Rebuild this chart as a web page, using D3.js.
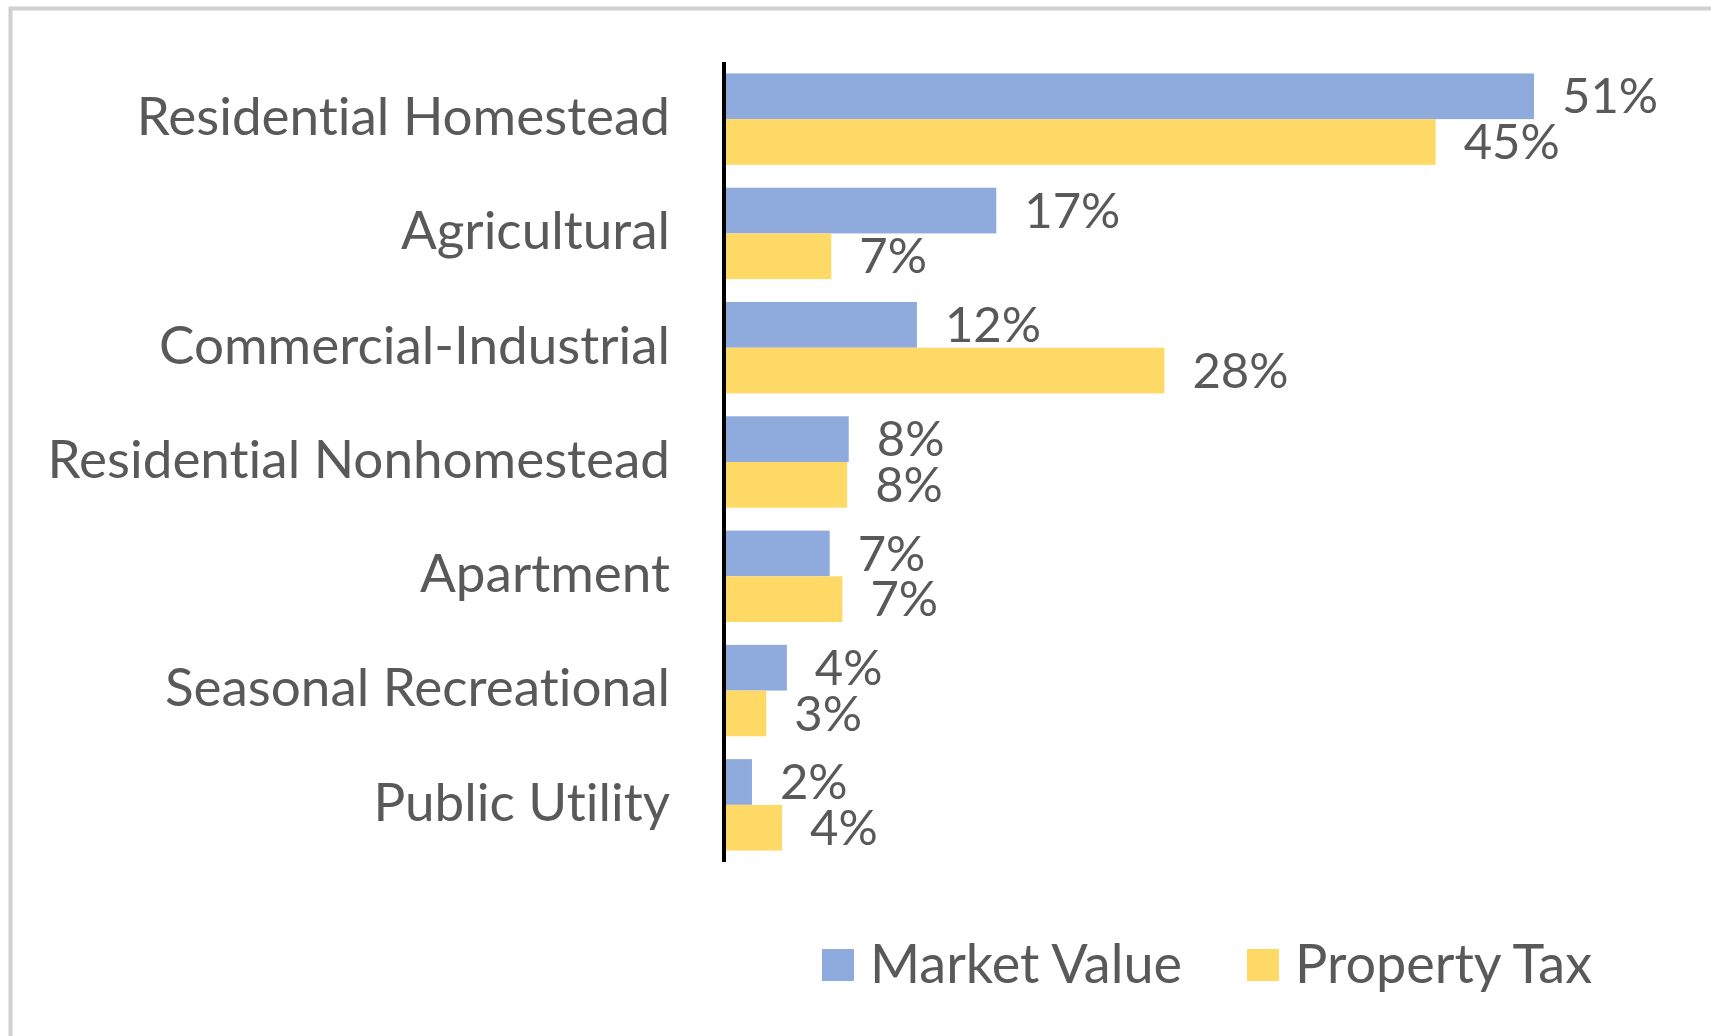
<!DOCTYPE html>
<html>
<head>
<meta charset="utf-8">
<script src="https://cdn.jsdelivr.net/npm/d3@7"></script>
<style>
  body { margin: 0; background: #fff; }
  text { font-family: Lato, "Open Sans", sans-serif; fill: #595959; font-variant-ligatures: none; }
</style>
</head>
<body>
<div id="chart"></div>
<script>
const categories = ['Residential Homestead', 'Agricultural', 'Commercial-Industrial',
  'Residential Nonhomestead', 'Apartment', 'Seasonal Recreational', 'Public Utility']
const seriesNames = ['Market Value', 'Property Tax']
const marketValue = [51.0, 17.1, 12.1, 7.8, 6.6, 3.9, 1.7]
const propertyTax = [44.8, 6.7, 27.7, 7.7, 7.4, 2.6, 3.6]
const colors = ['#8faadc', '#ffd966']

const width = 1711, height = 1036
const labelSize = 53, legendSize = 54, valueSize = 49

const svg = d3.select('#chart').append('svg')
  .attr('width', width)
  .attr('height', height)

// chart frame (only top and left edges fall inside the picture)
svg.append('path')
  .attr('d', `M10.5,${height} L10.5,8.5 L${width},8.5`)
  .attr('fill', 'none')
  .attr('stroke', '#d0d0d0')
  .attr('stroke-width', 4)

const y = d3.scaleBand()
  .domain(categories)
  .range([62, 862])
  .paddingInner(0.2)
  .paddingOuter(0.1)
const ySub = d3.scaleBand()
  .domain(seriesNames)
  .range([0, y.bandwidth()])
const x = d3.scaleLinear()
  .domain([0, 51])
  .range([725, 1534])

const rows = categories.map((c, i) => ({
  cat: c,
  vals: [marketValue[i], propertyTax[i]]
}))

const group = svg.append('g').selectAll('g')
  .data(rows)
  .enter().append('g')
  .attr('transform', d => `translate(0, ${y(d.cat)})`)

group.selectAll('rect')
  .data(d => d.vals.map((v, j) => ({ v, s: seriesNames[j], j })))
  .enter().append('rect')
  .attr('x', x(0))
  .attr('y', d => ySub(d.s))
  .attr('width', d => x(d.v) - x(0))
  .attr('height', ySub.bandwidth())
  .attr('fill', d => colors[d.j])

group.selectAll('text.val')
  .data(d => d.vals.map((v, j) => ({ v, s: seriesNames[j], j })))
  .enter().append('text')
  .attr('class', 'val')
  .attr('x', d => x(d.v) + 28)
  .attr('y', d => ySub(d.s) + ySub.bandwidth() / 2)
  .attr('dy', '0.35em')
  .style('font-size', valueSize + 'px')
  .text(d => Math.round(d.v) + '%')

// category labels
svg.append('g').selectAll('text')
  .data(categories)
  .enter().append('text')
  .attr('x', 670)
  .attr('y', d => y(d) + y.bandwidth() / 2)
  .attr('dy', '0.3em')
  .attr('text-anchor', 'end')
  .style('font-size', labelSize + 'px')
  .text(d => d)

// axis line
svg.append('line')
  .attr('x1', 724).attr('x2', 724)
  .attr('y1', 62).attr('y2', 862)
  .attr('stroke', '#000')
  .attr('stroke-width', 4)

// legend
const legendX = [822, 1247]
const legend = svg.append('g').selectAll('g')
  .data(seriesNames)
  .enter().append('g')
  .attr('transform', (d, i) => `translate(${legendX[i]}, 965)`)
legend.append('rect')
  .attr('x', 0).attr('y', -16)
  .attr('width', 32).attr('height', 32)
  .attr('fill', (d, i) => colors[i])
legend.append('text')
  .attr('x', 48)
  .attr('dy', '0.34em')
  .style('font-size', legendSize + 'px')
  .text(d => d)
</script>
</body>
</html>
